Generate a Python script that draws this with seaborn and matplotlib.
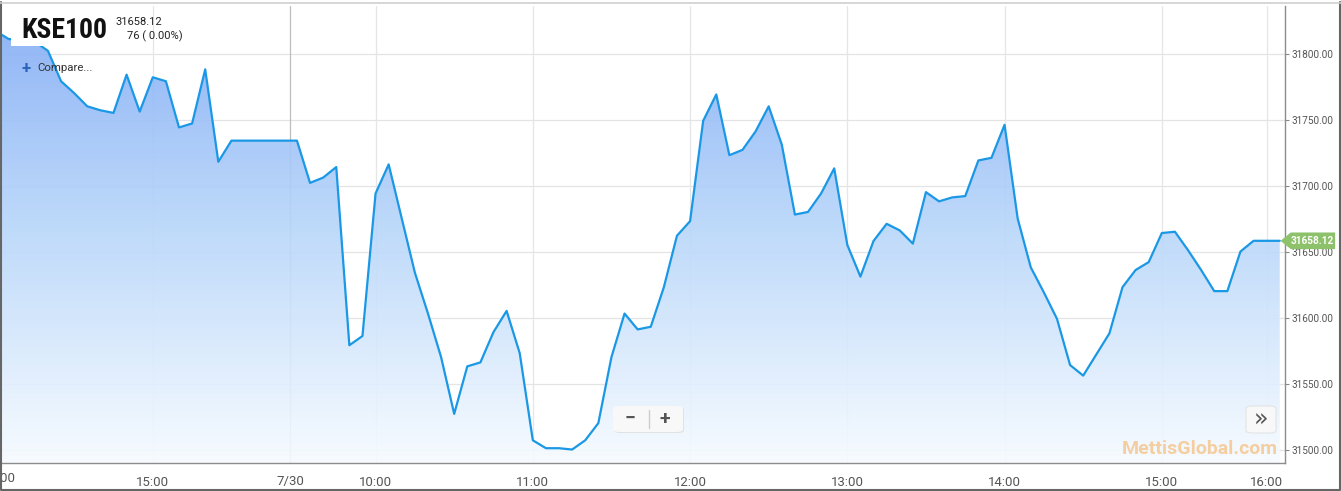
import numpy as np
import pandas as pd
import matplotlib
matplotlib.use("Agg")
import matplotlib.pyplot as plt
import matplotlib.transforms as mtransforms
import seaborn as sns
from matplotlib.colors import LinearSegmentedColormap
from matplotlib.patches import FancyBboxPatch, Polygon
from matplotlib.lines import Line2D

# KSE100 intraday, one value per 5-minute bar (7/29 14:00 -> 7/30 close)
prices = [31817, 31811, 31810, 31809, 31802, 31779, 31770, 31760, 31757, 31755,
          31784, 31756, 31782, 31779, 31744, 31747, 31788, 31718, 31734, 31734,
          31734, 31734, 31734, 31734, 31702, 31706, 31714, 31579, 31586, 31694,
          31716, 31675, 31634, 31603, 31570, 31527, 31563, 31566, 31589, 31605,
          31573, 31507, 31501, 31501, 31500, 31507, 31520, 31570, 31603, 31591,
          31593, 31623, 31662, 31673, 31749, 31769, 31723, 31727, 31741, 31760,
          31731, 31678, 31680, 31694, 31713, 31655, 31631, 31658, 31671, 31666,
          31656, 31695, 31688, 31691, 31692, 31719, 31721, 31746, 31675, 31638,
          31619, 31599, 31564, 31556, 31572, 31588, 31623, 31636, 31642, 31664,
          31665, 31651, 31636, 31620, 31620, 31650, 31658.12, 31658.12, 31658.12]
bars = list(range(len(prices)))

tick_pos = [12, 22.5, 29, 41, 53, 65, 77, 89, 97]
tick_labels = ["15:00", "7/30", "10:00", "11:00", "12:00", "13:00", "14:00", "15:00", "16:00"]
y_ticks = [31500, 31550, 31600, 31650, 31700, 31750, 31800]
last_price = 31658.12
change_text = "76 ( 0.00%)"

df = pd.DataFrame({"bar": bars, "price": prices})

sns.set_style("white")
plt.rcParams["font.family"] = ["Roboto", "DejaVu Sans"]

W, H = 1341, 491
fig = plt.figure(figsize=(W / 100, H / 100), dpi=100)
ax = fig.add_axes([0, (H - 463) / H, 1285 / W, (463 - 6) / H])

xlim = (0.34, 98.4)
ylim = (31489.8, 31836)

# gradient area under the line, clipped to the area polygon
base = ylim[0] - 10
area = np.column_stack([bars + [bars[-1], bars[0]], prices + [base, base]])
clip_poly = Polygon(area, closed=True, fc="none", ec="none", transform=ax.transData)
ax.add_patch(clip_poly)
cmap = LinearSegmentedColormap.from_list("kse", ["#80aaf6", "#b9d7fa", "#f6fbff"])
grad = np.linspace(0, 1, 256).reshape(-1, 1)
img = ax.imshow(grad, cmap=cmap, aspect="auto", extent=[xlim[0], xlim[1], ylim[0], ylim[1]],
                origin="upper", zorder=1, alpha=0.9)
img.set_clip_path(clip_poly)

sns.lineplot(data=df, x="bar", y="price", color="#1a98e6", lw=1.6, ax=ax, zorder=3)

ax.set_xlim(*xlim)
ax.set_ylim(*ylim)

# grid
for y in y_ticks:
    ax.axhline(y, color="#e4e4e4", lw=0.9, zorder=0.5)
for p, lab in zip(tick_pos, tick_labels):
    ax.axvline(p, color="#bdbdbd" if lab == "7/30" else "#e4e6e8", lw=0.9, zorder=0.5)

ax.set_xticks(tick_pos)
ax.set_xticklabels(tick_labels)
ax.yaxis.tick_right()
ax.set_yticks(y_ticks)
ax.set_yticklabels([f"{v:.2f}" for v in y_ticks])
ax.tick_params(axis="x", length=5, width=0.8, color="#888888", labelsize=9.5,
               labelcolor="#555555", pad=4)
ax.tick_params(axis="y", length=3, width=0.8, color="#888888", labelsize=7.2,
               labelcolor="#555555", pad=2)
ax.set_xlabel("")
ax.set_ylabel("")
for s in ["top", "left"]:
    ax.spines[s].set_visible(False)
ax.spines["right"].set_color("#8c8c8c")
ax.spines["bottom"].set_color("#8c8c8c")
ax.spines["right"].set_linewidth(1)
ax.spines["bottom"].set_linewidth(1)

# first time label, cut off by the left edge as in the source
ax.text(0.3, -0.02, "14:00", transform=mtransforms.blended_transform_factory(ax.transData, ax.transAxes),
        ha="center", va="top", fontsize=9.5, color="#555555", clip_on=False)

# last price flag on the right axis
bt = mtransforms.blended_transform_factory(ax.transAxes, ax.transData)
h = 6.3
flag = Polygon([(0.9965, last_price), (1.0045, last_price + h), (1.039, last_price + h),
                (1.039, last_price - h), (1.0045, last_price - h)],
               closed=True, transform=bt, fc="#8dc26b", ec="none", clip_on=False, zorder=6)
ax.add_patch(flag)
ax.text(1.0215, last_price, f"{last_price:.2f}", transform=bt, ha="center", va="center",
        fontsize=7.2, fontweight="bold", color="white", clip_on=False, zorder=7)

# title block
ft = fig.transFigure
fig.patches.append(FancyBboxPatch((11 / W, (H - 46) / H), 104 / W, 39 / H, boxstyle="square,pad=0",
                                  transform=ft, fc="white", ec="none", zorder=5))
fig.text(21 / W, (H - 31) / H, "KSE100", fontsize=20, fontweight="bold", color="#111111",
         va="center", ha="left", zorder=9, family=["Roboto Condensed", "Roboto", "DejaVu Sans"])
fig.text(116 / W, (H - 22) / H, f"{last_price:.2f}", fontsize=8, color="#222222", va="center", zorder=9)
fig.text(183 / W, (H - 36) / H, change_text, fontsize=8, color="#222222", va="center", ha="right", zorder=9)
fig.text(26 / W, (H - 68) / H, "+", fontsize=12, fontweight="bold", color="#2a64b8", va="center",
         ha="center", zorder=9)
fig.text(37 / W, (H - 68) / H, "Compare...", fontsize=8.2, color="#333333", va="center", zorder=9)

# zoom buttons
fig.patches.append(FancyBboxPatch((614 / W, (H - 433) / H), 70 / W, 26 / H,
                                  boxstyle="round,pad=0,rounding_size=0.005", transform=ft,
                                  fc="#e2e2e2", ec="none", zorder=5))
fig.patches.append(FancyBboxPatch((613 / W, (H - 432) / H), 70 / W, 26 / H,
                                  boxstyle="round,pad=0,rounding_size=0.005", transform=ft,
                                  fc="#f8f8f8", ec="none", zorder=6))
fig.lines.append(Line2D([649 / W, 649 / W], [(H - 428) / H, (H - 410) / H], transform=ft,
                        color="#cccccc", lw=1, zorder=7))
fig.text(630 / W, (H - 419) / H, "\u2212", fontsize=14, fontweight="bold", color="#555555",
         ha="center", va="center", zorder=8)
fig.text(665 / W, (H - 419) / H, "+", fontsize=14, fontweight="bold", color="#555555",
         ha="center", va="center", zorder=8)
fig.patches.append(FancyBboxPatch((1246 / W, (H - 433) / H), 30 / W, 27 / H,
                                  boxstyle="round,pad=0,rounding_size=0.005", transform=ft,
                                  fc="#f8f8f8", ec="#e4e4e4", lw=0.8, zorder=6))
fig.text(1261 / W, (H - 420) / H, "\u00bb", fontsize=17, color="#555555",
         ha="center", va="center", zorder=8, family=["DejaVu Sans"])

# watermark
fig.text(1200 / W, (H - 449) / H, "MettisGlobal.com", fontsize=14, fontweight="bold",
         color="#f5bd7a", alpha=0.7, ha="center", va="center", zorder=8)

# outer frame
fig.lines.append(Line2D([0.0008, 0.0008, 0.9992, 0.9992], [0.996, 0.002, 0.002, 0.996],
                        transform=ft, color="#666666", lw=1.5))
fig.lines.append(Line2D([0, 1], [0.993, 0.993], transform=ft, color="#cfcfcf", lw=1.2))

fig.savefig("out.png", dpi=100)
